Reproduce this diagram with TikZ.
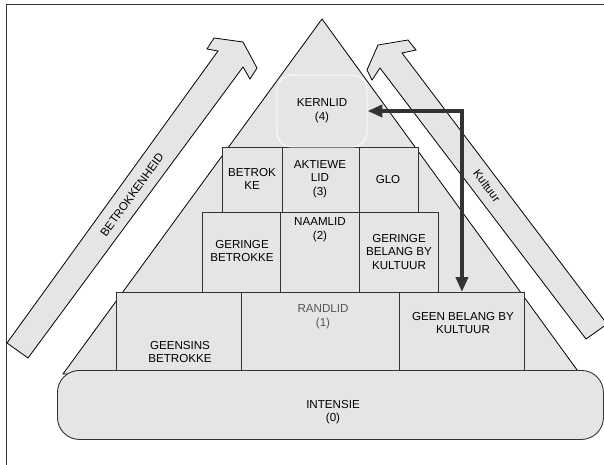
\documentclass[tikz,border=0pt]{standalone}
\usepackage{fontspec}
\setmainfont{Liberation Sans}
\usetikzlibrary{arrows.meta}
\definecolor{fillg}{HTML}{E5E5E5}
\definecolor{lineg}{HTML}{333333}
\definecolor{txtg}{HTML}{555555}
\begin{document}
\begin{tikzpicture}[x=1pt,y=-1pt,
  box/.style={draw=lineg, fill=fillg, line width=0.9pt, inner sep=0pt, anchor=north west},
  lbl/.style={align=center, font=\fontsize{11.6}{13.6}\selectfont, inner sep=0pt, text=black},
  shapeline/.style={draw=black, fill=fillg, line width=0.8pt, line join=miter},
  kernbox/.style={draw=white, fill=fillg, line width=0.9pt, rounded corners=15pt, inner sep=0pt,
     minimum width=90pt, minimum height=72pt, align=center, font=\fontsize{11.6}{13.6}\selectfont},
  link/.style={draw=lineg, line width=3.8pt,
     {Triangle[length=15pt,width=12pt]}-{Triangle[length=15pt,width=12pt]}}]
\useasboundingbox (0,0) rectangle (604,465);
% frame
\draw[lineg, line width=1pt] (6,465) -- (6,5) -- (604,5);
% block arrows
\draw[shapeline] (7,343) -- (218,51) -- (207,49) -- (214,38) -- (243,42) -- (257,68)
  -- (250,79) -- (243,67) -- (28,358) -- cycle;
\draw[shapeline] (586,339) -- (380,68) -- (372,80) -- (367,70) -- (378,45) -- (408,40)
  -- (416,50) -- (402,53) -- (607,324) -- cycle;
\node[lbl, rotate=54] (betr) at (132,195) {BETROKKENHEID};
\node[lbl, rotate=-53] (kult) at (487,186) {Kultuur};
% pyramid
\draw[shapeline] (322,19) -- (63,374) -- (580,374) -- cycle;
% row 3
\node[box, minimum width=60pt, minimum height=65pt] (b31) at (222,147) {};
\node[box, minimum width=77pt, minimum height=65pt] (b32) at (282,147) {};
\node[box, minimum width=59pt, minimum height=65pt] (b33) at (359,147) {};
% row 2
\node[box, minimum width=78pt, minimum height=80pt] (b21) at (202,212) {};
\node[box, minimum width=79pt, minimum height=80pt] (b22) at (280,212) {};
\node[box, minimum width=79pt, minimum height=80pt] (b23) at (359,212) {};
% row 1
\node[box, minimum width=125pt, minimum height=78pt] (b11) at (116,292) {};
\node[box, minimum width=158pt, minimum height=78pt] (b12) at (241,292) {};
\node[box, minimum width=125pt, minimum height=78pt] (geen) at (399,292) {};
% base
\node[box, rounded corners=22pt, minimum width=546pt, minimum height=69pt] (intens) at (57,370) {};
% top
\node[kernbox] (kern) at (322,111) {KERNLID\\(4)};
% labels
\node[lbl] (t31) at (252,179) {BETROK\\KE};
\node[lbl] (t32) at (320,179) {AKTIEWE\\LID\\(3)};
\node[lbl] (t33) at (388,180) {GLO};
\node[lbl] (t21) at (242,251) {GERINGE\\BETROKKE};
\node[lbl] (t22) at (320,230) {NAAMLID\\(2)};
\node[lbl] (t23) at (399,252) {GERINGE\\BELANG BY\\KULTUUR};
\node[lbl] (t11) at (180,352) {GEENSINS\\BETROKKE};
\node[lbl, text=txtg] (t12) at (323,317) {RANDLID\\(1)};
\node[lbl] (t13) at (463,323) {GEEN BELANG BY\\KULTUUR};
\node[lbl] (t0) at (333,412) {INTENSIE\\(0)};
% connector
\draw[link] (kern.east) -| (geen.north);
\end{tikzpicture}
\end{document}
